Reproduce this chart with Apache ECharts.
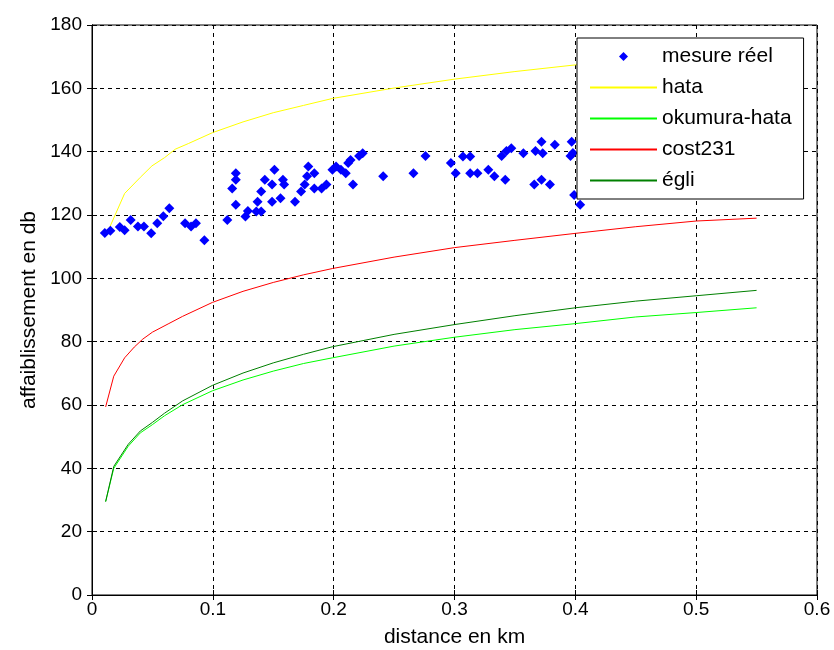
<!DOCTYPE html>
<html>
<head>
<meta charset="utf-8">
<script src="https://cdn.jsdelivr.net/npm/echarts@6/dist/echarts.min.js"></script>
<style>html,body{margin:0;padding:0;background:#fff;}#c{width:834px;height:650px;}</style>
</head>
<body>
<div id="c"></div>
<script>
// measured points
const mesDist = [0.0106,0.0152,0.023,0.027,0.032,0.038,0.043,0.049,0.054,0.059,0.064,0.077,0.082,0.086,0.093,
  0.112,0.116,0.119,0.119,0.119,0.127,0.129,0.136,0.137,0.140,0.140,0.143,0.149,0.149,0.151,0.156,0.158,0.159,
  0.168,0.173,0.176,0.179,0.178,0.184,0.184,0.190,0.194,0.199,0.202,0.206,0.210,0.212,0.214,0.216,0.221,0.224,
  0.241,0.266,0.276,0.297,0.301,0.307,0.313,0.313,0.319,0.328,0.333,0.339,0.343,0.347,0.342,0.357,0.366,0.367,
  0.372,0.373,0.372,0.379,0.383,0.397,0.396,0.398,0.399,0.404];
const mesDb = [114.3,115.0,116.2,115.2,118.4,116.4,116.4,114.2,117.4,119.6,122.1,117.4,116.4,117.4,112.0,
  118.4,128.4,133.2,131.1,123.2,119.5,121.3,121.1,124.2,121.1,127.4,131.1,124.2,129.6,134.3,125.3,131.1,129.6,
  124.2,127.4,129.6,135.3,132.2,133.2,128.4,128.4,129.6,134.3,135.3,134.3,133.2,136.4,137.4,129.6,138.6,139.5,
  132.2,133.2,138.6,136.4,133.2,138.5,138.5,133.2,133.2,134.3,132.2,138.6,140.2,141.1,131.1,139.5,129.6,140.2,
  143.1,139.5,131.1,129.6,142.2,143.1,138.6,139.6,126.3,123.2];

// model curves
const hataDist = [0.0115,0.027,0.04,0.0496,0.06,0.069,0.08,0.0997,0.125,0.15,0.175,0.199,0.25,0.3,0.35,0.4,0.45,0.5,0.55];
const hataDb   = [113.4,126.8,131.9,135.5,138.1,140.8,142.6,146.0,149.4,152.3,154.6,156.8,160.1,162.9,165.3,167.4,169.2,170.8,172.2];

const okuDist = [0.0113,0.018,0.030,0.040,0.050,0.060,0.075,0.0997,0.125,0.15,0.175,0.199,0.25,0.3,0.35,0.4,0.45,0.5,0.55];
const okuDb   = [29.5,40.0,47.0,51.2,53.8,56.6,60.1,64.5,67.9,70.7,73.1,74.9,78.6,81.4,83.8,85.7,87.8,89.2,90.7];

const costDist = [0.0113,0.018,0.027,0.035,0.042,0.05,0.063,0.075,0.0997,0.125,0.15,0.175,0.199,0.25,0.3,0.35,0.4,0.45,0.5,0.55];
const costDb   = [59.4,69.1,74.9,78.3,80.8,83.0,85.6,88.0,92.4,95.9,98.7,101.1,103.1,106.7,109.7,112.0,114.2,116.3,118.1,119.0];

const egliDist = [0.0113,0.018,0.030,0.040,0.050,0.060,0.075,0.0997,0.125,0.15,0.175,0.199,0.25,0.3,0.35,0.4,0.45,0.5,0.55];
const egliDb   = [29.5,40.6,47.6,51.8,54.5,57.4,61.3,66.2,70.1,73.3,76.0,78.4,82.3,85.4,88.2,90.7,92.8,94.5,96.2];

const xTicks = [0,0.1,0.2,0.3,0.4,0.5,0.6];
const yTicks = [0,20,40,60,80,100,120,140,160,180];

const zip = (a,b) => a.map((v,i)=>[v,b[i]]);
const FONT = 'Liberation Sans, Arial, sans-serif';

const chart = echarts.init(document.getElementById('c'));
const baseX = {
  type:'value', min:xTicks[0], max:xTicks[xTicks.length-1], interval:0.1,
  axisLine:{show:true, lineStyle:{color:'#000'}},
  axisTick:{show:true, inside:true, length:5, lineStyle:{color:'#000'}},
};
const baseY = {
  type:'value', min:yTicks[0], max:yTicks[yTicks.length-1], interval:20,
  axisLine:{show:true, lineStyle:{color:'#000'}},
  axisTick:{show:true, inside:true, length:5, lineStyle:{color:'#000'}},
};
const lineIcon = 'path://M0,0L67,0L67,2L0,2Z';
chart.setOption({
  animation:false,
  backgroundColor:'#fff',
  textStyle:{fontFamily:FONT},
  grid:{left:92, right:17, top:25, bottom:55, show:true, borderColor:'#000', borderWidth:1,
        containLabel:false, outerBoundsMode:'none'},
  xAxis:[
    Object.assign({}, baseX, {
      position:'bottom',
      name:'distance en km', nameLocation:'middle', nameGap:32,
      nameTextStyle:{fontSize:21, color:'#000', fontFamily:FONT},
      axisLabel:{fontSize:19, color:'#000', margin:5, fontFamily:FONT,
        formatter:v=>String(+v.toFixed(1))},
      splitLine:{show:true, lineStyle:{color:'#000', type:[4,4], width:1}}
    }),
    Object.assign({}, baseX, {position:'top', axisLabel:{show:false}, splitLine:{show:false}})
  ],
  yAxis:[
    Object.assign({}, baseY, {
      position:'left',
      name:'affaiblissement en db', nameLocation:'middle', nameGap:51,
      nameTextStyle:{fontSize:21, color:'#000', fontFamily:FONT},
      axisLabel:{fontSize:19, color:'#000', margin:10, fontFamily:FONT},
      splitLine:{show:true, lineStyle:{color:'#000', type:[4,4], width:1}}
    }),
    Object.assign({}, baseY, {position:'right', axisLabel:{show:false}, splitLine:{show:false}})
  ],
  legend:{
    orient:'vertical', left:577, top:38,
    padding:[8,12,8,13], itemGap:10, itemWidth:67, itemHeight:9,
    backgroundColor:'#fff', borderColor:'#000', borderWidth:1, borderRadius:0,
    symbolKeepAspect:true,
    textStyle:{fontSize:21, color:'#000', fontFamily:FONT},
    data:[
      {name:'mesure réel', icon:'path://M0,-1L1,0L0,1L-1,0Z', itemStyle:{opacity:1}},
      {name:'hata', icon:lineIcon},
      {name:'okumura-hata', icon:lineIcon},
      {name:'cost231', icon:lineIcon},
      {name:'égli', icon:lineIcon}
    ]
  },
  series:[
    {name:'mesure réel', type:'scatter', symbol:'diamond', symbolSize:10,
     itemStyle:{color:'#0000ff', opacity:1}, data:zip(mesDist,mesDb), z:3},
    {name:'hata', type:'line', symbol:'none', lineStyle:{color:'#ffff00', width:1}, itemStyle:{color:'#ffff00'}, data:zip(hataDist,hataDb)},
    {name:'okumura-hata', type:'line', symbol:'none', lineStyle:{color:'#00ff00', width:1}, itemStyle:{color:'#00ff00'}, data:zip(okuDist,okuDb)},
    {name:'cost231', type:'line', symbol:'none', lineStyle:{color:'#ff0000', width:1}, itemStyle:{color:'#ff0000'}, data:zip(costDist,costDb)},
    {name:'égli', type:'line', symbol:'none', lineStyle:{color:'#008000', width:1}, itemStyle:{color:'#008000'}, data:zip(egliDist,egliDb)}
  ]
});
</script>
</body>
</html>
